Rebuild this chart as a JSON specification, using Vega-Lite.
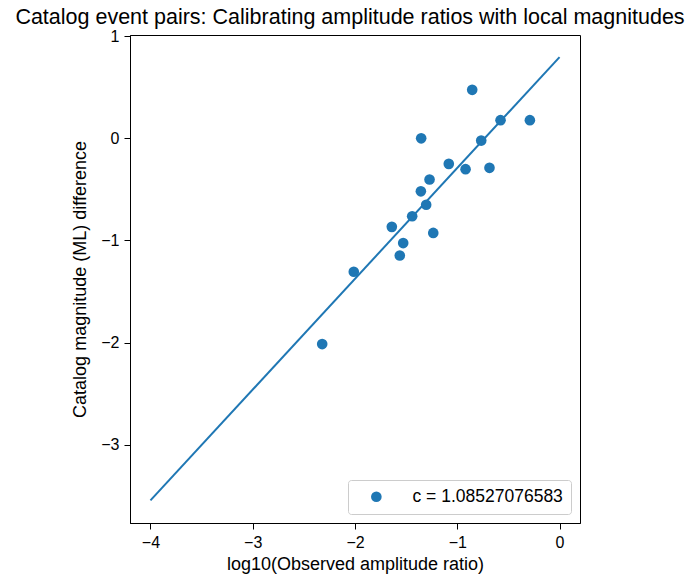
{
  "$schema": "https://vega.github.io/schema/vega-lite/v6.json",
  "autosize": "none",
  "width": 450,
  "height": 488,
  "padding": {"left": 130, "top": 35, "right": 119, "bottom": 58},
  "background": "white",
  "title": {"text": "Catalog event pairs: Calibrating amplitude ratios with local magnitudes", "font": "Liberation Sans", "fontSize": 21.5, "fontWeight": "normal", "color": "black", "anchor": "middle", "offset": 0, "dx": -5},
  "config": {
    "view": {"stroke": "black", "strokeWidth": 1},
    "axis": {"labelFont": "Liberation Sans", "titleFont": "Liberation Sans", "labelFontSize": 16, "titleFontSize": 18, "titleFontWeight": "normal", "labelColor": "black", "titleColor": "black", "domainColor": "black", "tickColor": "black", "tickSize": 6, "grid": false, "labelPadding": 5,
      "labelExpr": "replace(format(datum.value, 'd'), '-', '\u2212')"}
  },
  "datasets": {
    "pts": [
      {"x": -0.854, "y": 0.475},
      {"x": -0.577, "y": 0.178},
      {"x": -0.29, "y": 0.178},
      {"x": -1.353, "y": 0.0},
      {"x": -0.766, "y": -0.022},
      {"x": -1.083, "y": -0.25},
      {"x": -0.919, "y": -0.302},
      {"x": -0.685, "y": -0.289},
      {"x": -1.271, "y": -0.403},
      {"x": -1.356, "y": -0.519},
      {"x": -1.304, "y": -0.65},
      {"x": -1.441, "y": -0.763},
      {"x": -1.64, "y": -0.867},
      {"x": -1.529, "y": -1.026},
      {"x": -1.235, "y": -0.926},
      {"x": -1.562, "y": -1.147},
      {"x": -2.012, "y": -1.306},
      {"x": -2.321, "y": -2.015}
    ],
    "fit": [
      {"x": -4, "y": -3.546},
      {"x": 0, "y": 0.795}
    ]
  },
  "layer": [
    {
      "data": {"name": "fit"},
      "mark": {"type": "line", "color": "#1f77b4", "strokeWidth": 2},
      "encoding": {
        "x": {"field": "x", "type": "quantitative", "scale": {"domain": [-4.2, 0.2], "nice": false, "zero": false}, "axis": {"values": [-4, -3, -2, -1, 0], "title": "log10(Observed amplitude ratio)", "titlePadding": 5}},
        "y": {"field": "y", "type": "quantitative", "scale": {"domain": [-3.767, 1.012], "nice": false, "zero": false}, "axis": {"values": [-3, -2, -1, 0, 1], "title": "Catalog magnitude (ML) difference", "titlePadding": 11}}
      }
    },
    {
      "data": {"name": "pts"},
      "mark": {"type": "point", "filled": true, "opacity": 1, "size": 113},
      "encoding": {
        "x": {"field": "x", "type": "quantitative"},
        "y": {"field": "y", "type": "quantitative"},
        "color": {"datum": "c = 1.08527076583", "type": "nominal", "scale": {"range": ["#1f77b4"]},
          "legend": {"title": null, "orient": "bottom-right", "offset": 9, "padding": 8, "symbolOffset": 11.6, "labelOffset": 27.4, "labelFontSize": 17.5, "labelLimit": 300, "labelFont": "Liberation Sans", "labelColor": "black", "strokeColor": "#cccccc", "fillColor": "white", "cornerRadius": 3, "symbolSize": 113, "symbolType": "circle", "symbolStrokeWidth": 0}}
      }
    }
  ]
}
